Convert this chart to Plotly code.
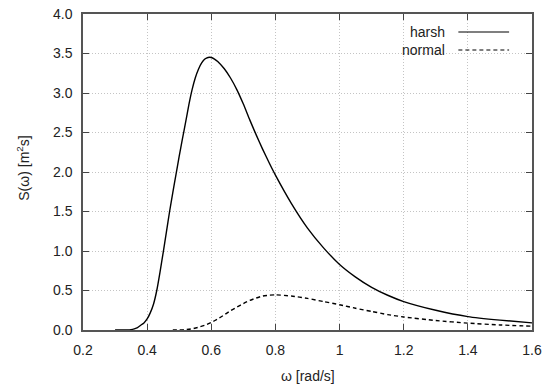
import plotly.graph_objects as go

# Harsh sea state spectrum
harsh_w = [0.30, 0.34, 0.35, 0.36, 0.37, 0.38, 0.39, 0.40, 0.41, 0.42, 0.43, 0.44, 0.45, 0.46,
           0.47, 0.48, 0.49, 0.50, 0.51, 0.52, 0.53, 0.54, 0.55, 0.56, 0.57, 0.58, 0.59, 0.60,
           0.61, 0.62, 0.64, 0.66, 0.68, 0.70, 0.72, 0.74, 0.76, 0.78, 0.80, 0.85, 0.90, 0.95,
           1.00, 1.05, 1.10, 1.15, 1.20, 1.30, 1.40, 1.50, 1.60]
harsh_s = [0.0, 0.0, 0.005, 0.015, 0.03, 0.06, 0.09, 0.14, 0.22, 0.33, 0.50, 0.73, 0.98, 1.24,
           1.50, 1.74, 1.97, 2.20, 2.42, 2.63, 2.85, 3.04, 3.19, 3.30, 3.38, 3.43, 3.45, 3.45,
           3.43, 3.40, 3.31, 3.19, 3.04, 2.86, 2.66, 2.47, 2.29, 2.12, 1.96, 1.60, 1.29, 1.04,
           0.83, 0.67, 0.54, 0.44, 0.36, 0.25, 0.17, 0.125, 0.09]

# Normal sea state spectrum
normal_w = [0.48, 0.50, 0.52, 0.54, 0.56, 0.58, 0.60, 0.62, 0.64, 0.66, 0.68, 0.70, 0.72, 0.74,
            0.76, 0.78, 0.80, 0.85, 0.90, 0.95, 1.00, 1.05, 1.10, 1.15, 1.20, 1.30, 1.40, 1.50,
            1.60]
normal_s = [0.0, 0.0, 0.005, 0.015, 0.035, 0.06, 0.095, 0.14, 0.19, 0.245, 0.29, 0.335, 0.375, 0.405,
            0.43, 0.44, 0.445, 0.43, 0.40, 0.36, 0.32, 0.275, 0.235, 0.195, 0.165, 0.12, 0.087, 0.064,
            0.048]

x_ticks = [0.2, 0.4, 0.6, 0.8, 1.0, 1.2, 1.4, 1.6]
x_tick_labels = ["0.2", "0.4", "0.6", "0.8", "1", "1.2", "1.4", "1.6"]
y_ticks = [0.0, 0.5, 1.0, 1.5, 2.0, 2.5, 3.0, 3.5, 4.0]
y_tick_labels = ["0.0", "0.5", "1.0", "1.5", "2.0", "2.5", "3.0", "3.5", "4.0"]
series_names = ["harsh", "normal"]
x_title = "ω [rad/s]"
y_title = "S(ω) [m<sup>2</sup>s]"

FONT = "Liberation Sans, Arial, sans-serif"
TXT = "#222"

fig = go.Figure()
fig.add_trace(go.Scatter(x=harsh_w, y=harsh_s, mode="lines", name=series_names[0],
                         line=dict(color="black", width=1.4, shape="spline", smoothing=0.5),
                         showlegend=False))
fig.add_trace(go.Scatter(x=normal_w, y=normal_s, mode="lines", name=series_names[1],
                         line=dict(color="black", width=1.4, dash="4px,3px", shape="spline", smoothing=0.5),
                         showlegend=False))

axis_common = dict(
    showline=True, linecolor="#555", linewidth=1.5, mirror="ticks",
    ticks="inside", ticklen=6, tickcolor="#444", tickwidth=1,
    showgrid=True, gridcolor="#c4c4c4", griddash="1px,2px", gridwidth=1,
    zeroline=False, automargin=False,
    tickfont=dict(family=FONT, size=14, color=TXT),
)

fig.update_xaxes(range=[0.2, 1.6], tickvals=x_ticks, ticktext=x_tick_labels,
                 ticklabelstandoff=6, **axis_common)
fig.update_yaxes(range=[0, 4.0], tickvals=y_ticks, ticktext=y_tick_labels,
                 ticklabelstandoff=6, **axis_common)

# axis titles
fig.add_annotation(xref="paper", yref="paper", x=0.50, y=-0.146, text=x_title, showarrow=False,
                   xanchor="center", yanchor="middle", font=dict(family=FONT, size=14, color=TXT))
fig.add_annotation(xref="paper", yref="paper", x=-0.134, y=0.513, text=y_title, showarrow=False,
                   textangle=-90, xanchor="center", yanchor="middle",
                   font=dict(family=FONT, size=14, color=TXT))

# gnuplot-style legend: text right-aligned, sample to the right
legend_rows = [(series_names[0], "solid", 0.943), (series_names[1], "4px,3px", 0.886)]
for name, dash, yy in legend_rows:
    fig.add_annotation(xref="paper", yref="paper", x=0.810, y=yy, text=name, showarrow=False,
                       xanchor="right", yanchor="middle",
                       font=dict(family=FONT, size=14, color=TXT))
    fig.add_shape(type="line", xref="paper", yref="paper", x0=0.836, x1=0.949, y0=yy, y1=yy,
                  line=dict(color="black", width=1.2, dash=dash))

fig.update_layout(
    width=555, height=387,
    margin=dict(l=83, r=23, t=14, b=57, autoexpand=False),
    paper_bgcolor="white", plot_bgcolor="white",
    showlegend=False,
)

fig.write_html("out.html")
